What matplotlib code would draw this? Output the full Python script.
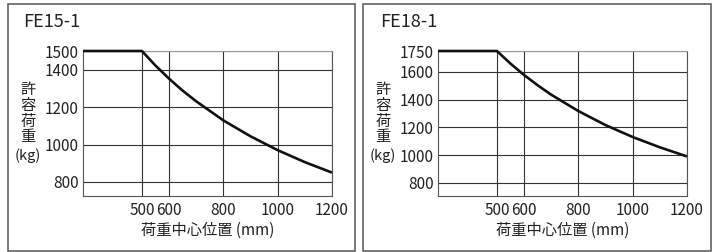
import matplotlib
matplotlib.use("Agg")
import matplotlib.pyplot as plt
from matplotlib.patches import Rectangle

plt.rcParams['font.family'] = ['Noto Sans CJK JP', 'DejaVu Sans']

# ---- data ----
titles = ["FE15-1", "FE18-1"]
x_mm = [283, 500, 550, 600, 650, 700, 800, 900, 1000, 1100, 1200]
load_fe15 = [1500, 1500, 1422, 1352, 1288, 1231, 1129, 1044, 970, 906, 850]
load_fe18 = [1750, 1750, 1659, 1577, 1503, 1435, 1317, 1216, 1130, 1056, 990]
x_ticks = [500, 600, 800, 1000, 1200]
y_ticks_fe15 = [800, 1000, 1200, 1400, 1500]
y_ticks_fe18 = [800, 1000, 1200, 1400, 1600, 1750]
ylim_fe15 = (725, 1500)
ylim_fe18 = (705, 1750)
xlim = (283, 1200)
xlabel = "荷重中心位置 (mm)"
ylabel_chars = ["許", "容", "荷", "重", "(kg)"]

W, H = 718, 252
fig = plt.figure(figsize=(W / 100, H / 100), dpi=100)

def fx(px):
    return px / W

def fy(py):
    return 1 - py / H

# panel boxes
for (l, r) in [(8, 355), (363, 711)]:
    fig.patches.append(Rectangle((fx(l), fy(251)), fx(r - l), fy(4) - fy(251),
                                 transform=fig.transFigure, fill=False,
                                 edgecolor="#555555", linewidth=1.1))

panels = [
    dict(title=titles[0], y=load_fe15, yt=y_ticks_fe15, ylim=ylim_fe15,
         ax_l=83, ax_r=332, title_x=23, lab_x=28),
    dict(title=titles[1], y=load_fe18, yt=y_ticks_fe18, ylim=ylim_fe18,
         ax_l=438, ax_r=687, title_x=380, lab_x=383),
]

text_col = "#222222"
grid_col = "#333333"

for p in panels:
    ax = fig.add_axes([fx(p["ax_l"]), fy(196), fx(p["ax_r"] - p["ax_l"]), fy(51) - fy(196)])
    ax.set_xlim(*xlim)
    ax.set_ylim(*p["ylim"])
    ax.set_xticks(x_ticks)
    ax.set_yticks(p["yt"])
    ax.grid(True, color=grid_col, linewidth=0.8)
    ax.set_axisbelow(True)
    ax.plot(x_mm, p["y"], color="#111111", linewidth=1.9, solid_capstyle="butt",
            clip_on=False, zorder=5)
    for s in ax.spines.values():
        s.set_color("#555555")
        s.set_linewidth(0.8)
    ax.spines["top"].set_color("#999999")
    ax.tick_params(length=0, pad=3, labelsize=11, colors=text_col)
    ax.tick_params(axis="x", pad=4)
    fig.text(fx(p["title_x"]), fy(22), p["title"], fontsize=13, color=text_col,
             ha="left", va="center")
    cx = (p["ax_l"] + p["ax_r"]) / 2
    fig.text(fx(cx), fy(230), xlabel, fontsize=11, color=text_col,
             ha="center", va="center")
    ys = [89, 105, 121, 137, 156]
    for ch, yy in zip(ylabel_chars, ys):
        fig.text(fx(p["lab_x"]), fy(yy), ch, fontsize=11 if ch != "(kg)" else 10.5,
                 color=text_col, ha="center", va="center")

fig.savefig("out.png", dpi=100)
